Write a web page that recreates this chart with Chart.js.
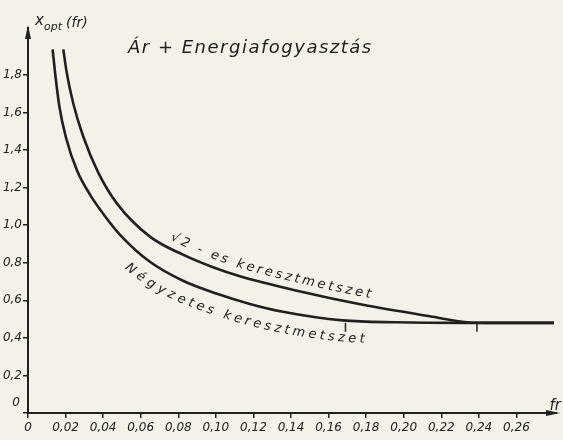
<!DOCTYPE html>
<html>
<head>
<meta charset="utf-8">
<script src="https://cdn.jsdelivr.net/npm/chart.js@4/dist/chart.umd.min.js"></script>
<style>
  body { margin: 0; background: #f4f2e8; }
  canvas { display: block; }
</style>
</head>
<body>
<canvas id="chart" width="563" height="440"></canvas>
<script>
// Tick values (fr on x, x_opt on y)
const xTicks = [0, 0.02, 0.04, 0.06, 0.08, 0.10, 0.12, 0.14, 0.16, 0.18, 0.20, 0.22, 0.24, 0.26];
const yTicks = [0, 0.2, 0.4, 0.6, 0.8, 1.0, 1.2, 1.4, 1.6, 1.8];

// Négyzetes keresztmetszet (inner curve)
const innerX = [0.0131, 0.0144, 0.0167, 0.0202, 0.0261, 0.0330, 0.0404, 0.0490, 0.0649, 0.0825, 0.1006, 0.1181, 0.1357, 0.1676, 0.1964, 0.2315, 0.28];
const innerY = [1.936, 1.813, 1.632, 1.467, 1.291, 1.163, 1.056, 0.949, 0.805, 0.704, 0.635, 0.581, 0.539, 0.493, 0.483, 0.48, 0.48];

// √2-es keresztmetszet (outer curve)
const outerX = [0.0188, 0.0206, 0.0241, 0.0294, 0.0374, 0.0474, 0.0649, 0.0825, 0.0985, 0.1128, 0.1432, 0.1783, 0.2139, 0.2352, 0.2448, 0.28];
const outerY = [1.936, 1.813, 1.648, 1.472, 1.280, 1.115, 0.939, 0.843, 0.776, 0.728, 0.651, 0.576, 0.515, 0.482, 0.48, 0.48];

// small tick marks drawn under the flat part of the curves
const markerX = [0.169, 0.239];

const ink = '#202020';
const paper = '#f4f2e8';
const font = 'DejaVu Sans';

const toPoints = (xs, ys) => xs.map((x, i) => ({ x: x, y: ys[i] }));

// sample the drawn bezier curve of a dataset
const samplePath = (meta) => {
    const pts = meta.data;
    const out = [];
    for (let i = 0; i < pts.length - 1; i++) {
        const p0 = pts[i], p1 = pts[i + 1];
        const c1x = p0.cp2x ?? p0.x, c1y = p0.cp2y ?? p0.y;
        const c2x = p1.cp1x ?? p1.x, c2y = p1.cp1y ?? p1.y;
        for (let k = 0; k < 30; k++) {
            const t = k / 30, u = 1 - t;
            out.push({
                x: u*u*u*p0.x + 3*u*u*t*c1x + 3*u*t*t*c2x + t*t*t*p1.x,
                y: u*u*u*p0.y + 3*u*u*t*c1y + 3*u*t*t*c2y + t*t*t*p1.y
            });
        }
    }
    const last = pts[pts.length - 1];
    out.push({ x: last.x, y: last.y });
    let s = 0;
    out[0].s = 0;
    for (let i = 1; i < out.length; i++) {
        s += Math.hypot(out[i].x - out[i-1].x, out[i].y - out[i-1].y);
        out[i].s = s;
    }
    return out;
};

const pointAt = (path, s) => {
    let i = 1;
    while (i < path.length - 1 && path[i].s < s) i++;
    const a = path[i-1], b = path[i];
    const t = (s - a.s) / ((b.s - a.s) || 1);
    return { x: a.x + (b.x - a.x) * t, y: a.y + (b.y - a.y) * t, ang: Math.atan2(b.y - a.y, b.x - a.x) };
};

// write text letter by letter along a curve, offset along its normal
const drawAlong = (ctx, path, text, startPx, offset, spacing) => {
    let s = path.find(p => p.x >= startPx).s;
    for (const ch of text) {
        const w = ctx.measureText(ch).width;
        const p = pointAt(path, s + w / 2);
        const nx = -Math.sin(p.ang), ny = Math.cos(p.ang);
        ctx.save();
        ctx.translate(p.x + nx * offset, p.y + ny * offset);
        ctx.rotate(p.ang);
        ctx.fillText(ch, -w / 2, 0);
        ctx.restore();
        s += w + spacing;
    }
};

const paperPlugin = {
    id: 'paper',
    beforeDraw(chart) {
        const ctx = chart.ctx;
        ctx.save();
        ctx.fillStyle = paper;
        ctx.fillRect(0, 0, chart.width, chart.height);
        ctx.restore();
    }
};

const notesPlugin = {
    id: 'notes',
    afterDraw(chart) {
        const ctx = chart.ctx;
        const xs = chart.scales.x, ys = chart.scales.y;
        const x0 = xs.left, y0 = ys.bottom;
        ctx.save();
        ctx.fillStyle = ink;
        ctx.strokeStyle = ink;

        // axis arrows
        ctx.lineWidth = 2;
        ctx.beginPath();
        ctx.moveTo(xs.right, y0);
        ctx.lineTo(chart.width - 6, y0);
        ctx.stroke();
        ctx.beginPath();
        ctx.moveTo(chart.width - 3, y0);
        ctx.lineTo(chart.width - 17, y0 - 3);
        ctx.lineTo(chart.width - 17, y0 + 3);
        ctx.closePath();
        ctx.fill();
        ctx.beginPath();
        ctx.moveTo(x0, ys.top - 3);
        ctx.lineTo(x0 - 3, ys.top + 11);
        ctx.lineTo(x0 + 3, ys.top + 11);
        ctx.closePath();
        ctx.fill();

        // tick marks under the flat part
        const flat = innerY[innerY.length - 1];
        ctx.lineWidth = 1.5;
        markerX.forEach(v => {
            const px = xs.getPixelForValue(v);
            const py = ys.getPixelForValue(flat);
            ctx.beginPath();
            ctx.moveTo(px, py);
            ctx.lineTo(px, py + 9);
            ctx.stroke();
        });

        // "0" of the y axis sits above the x axis
        ctx.font = 'italic 12px "' + font + '"';
        ctx.textAlign = 'right';
        ctx.textBaseline = 'middle';
        ctx.fillText('0', x0 - 8, ys.getPixelForValue(0) - 10);

        // axis titles
        ctx.textAlign = 'left';
        ctx.textBaseline = 'alphabetic';
        ctx.font = 'italic 15px "' + font + '"';
        ctx.fillText('x', 35, 25);
        ctx.font = 'italic 11px "' + font + '"';
        ctx.fillText('opt', 44, 30);
        ctx.font = 'italic 14px "' + font + '"';
        ctx.fillText('(fr)', 66, 27);
        ctx.textAlign = 'right';
        ctx.font = 'italic 15px "' + font + '"';
        ctx.fillText('fr', chart.width - 2, y0 - 3);

        // heading
        ctx.textAlign = 'left';
        ctx.font = 'italic 18px "' + font + '"';
        ctx.letterSpacing = '1.5px';
        ctx.fillText('Ár + Energiafogyasztás', 128, 53);
        ctx.letterSpacing = '0px';

        // curve labels
        ctx.font = 'italic 13px "' + font + '"';
        const outerPath = samplePath(chart.getDatasetMeta(1));
        drawAlong(ctx, outerPath, '√2 - es keresztmetszet', xs.getPixelForValue(0.0734), -8, 3);
        const innerPath = samplePath(chart.getDatasetMeta(0));
        drawAlong(ctx, innerPath, 'Négyzetes keresztmetszet', xs.getPixelForValue(0.0585), 21, 3);

        ctx.restore();
    }
};

const tickFont = { family: font, style: 'italic', size: 12 };

new Chart(document.getElementById('chart'), {
    type: 'scatter',
    data: {
        datasets: [
            {
                label: 'Négyzetes keresztmetszet',
                data: toPoints(innerX, innerY),
                showLine: true,
                borderColor: ink,
                borderWidth: 2.6,
                pointRadius: 0,
                cubicInterpolationMode: 'monotone'
            },
            {
                label: '√2-es keresztmetszet',
                data: toPoints(outerX, outerY),
                showLine: true,
                borderColor: ink,
                borderWidth: 2.6,
                pointRadius: 0,
                cubicInterpolationMode: 'monotone'
            }
        ]
    },
    options: {
        responsive: false,
        animation: false,
        layout: { padding: { top: 28, right: 9, left: 0, bottom: 0 } },
        plugins: {
            legend: { display: false },
            tooltip: { enabled: false }
        },
        scales: {
            x: {
                type: 'linear',
                min: 0,
                max: 0.28,
                afterBuildTicks: s => { s.ticks = xTicks.map(v => ({ value: v })); },
                afterFit: s => { s.height = 27; },
                grid: { display: true, drawOnChartArea: false, drawTicks: true, tickLength: 5, color: ink, lineWidth: 1.5 },
                border: { display: true, color: ink, width: 2 },
                ticks: {
                    autoSkip: false,
                    maxRotation: 0,
                    padding: 3,
                    color: ink,
                    font: tickFont,
                    callback: v => v === 0 ? '0' : v.toFixed(2).replace('.', ',')
                }
            },
            y: {
                min: 0,
                max: 2.05,
                afterBuildTicks: s => { s.ticks = yTicks.map(v => ({ value: v })); },
                afterFit: s => { s.width = 28; },
                grid: { display: true, drawOnChartArea: false, drawTicks: true, tickLength: 5, color: ink, lineWidth: 1.5 },
                border: { display: true, color: ink, width: 2 },
                ticks: {
                    padding: 1,
                    color: ink,
                    font: tickFont,
                    callback: v => v === 0 ? '' : v.toFixed(1).replace('.', ',')
                }
            }
        }
    },
    plugins: [paperPlugin, notesPlugin]
});
</script>
</body>
</html>
